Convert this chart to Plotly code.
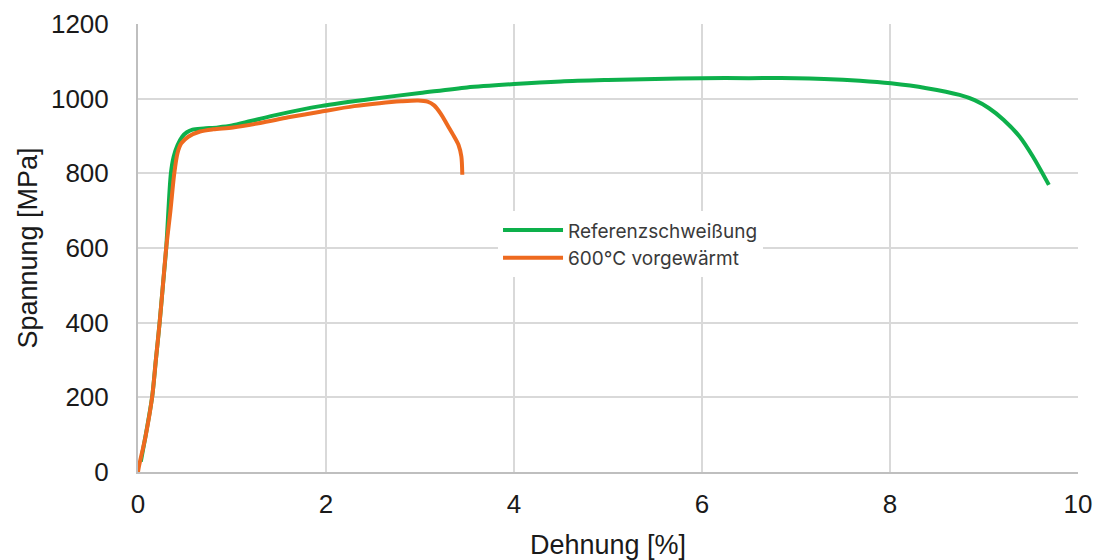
import plotly.graph_objects as go

# Referenzschweißung: Dehnung [%] / Spannung [MPa]
ref_strain = [0.03, 0.09, 0.15, 0.19, 0.23, 0.265, 0.30, 0.35, 0.38, 0.42, 0.47, 0.52,
              0.58, 0.70, 0.85, 1.0, 1.2, 1.5, 1.94, 2.5, 3.0, 3.5, 4.0, 4.5, 5.0,
              5.5, 6.0, 6.5, 7.0, 7.3, 7.68, 8.01, 8.39, 8.74, 8.9, 9.05, 9.21, 9.38, 9.52, 9.69]
ref_stress = [28, 110, 200, 300, 400, 500, 600, 800, 845, 875, 898, 910,
              917, 920, 923, 928, 940, 958, 980, 1000, 1015, 1030, 1039, 1046, 1050,
              1053, 1055, 1055, 1055, 1053, 1048, 1041, 1028, 1010, 996, 975, 943, 898, 845, 769]

# 600°C vorgewärmt
pre_strain = [0.0, 0.01, 0.08, 0.15, 0.19, 0.23, 0.265, 0.30, 0.345, 0.386, 0.42, 0.46, 0.535, 0.66,
              0.80, 1.01, 1.3, 1.6, 1.94, 2.3, 2.57, 2.8, 2.98, 3.08, 3.15, 3.22, 3.29,
              3.36, 3.41, 3.44, 3.45]
pre_stress = [0, 15, 95, 200, 300, 400, 500, 600, 700, 800, 854, 880, 898, 912,
              918, 923, 935, 950, 965, 980, 988, 993, 995, 992, 982, 960, 930,
              900, 876, 845, 796]

x_ticks = [0, 2, 4, 6, 8, 10]
y_ticks = [0, 200, 400, 600, 800, 1000, 1200]

GREEN = "#0DB04B"
ORANGE = "#EE6A1F"

fig = go.Figure()
fig.add_trace(go.Scatter(x=ref_strain, y=ref_stress, mode="lines",
                         name="Referenzschweißung",
                         line=dict(color=GREEN, width=4, shape="spline", smoothing=0.8)))
fig.add_trace(go.Scatter(x=pre_strain, y=pre_stress, mode="lines",
                         name="600°C vorgewärmt",
                         line=dict(color=ORANGE, width=4, shape="spline", smoothing=0.8)))

tick_font = dict(family="Liberation Sans, Arial, sans-serif", size=26, color="#1a1a1a")
title_font = dict(family="Liberation Sans, Arial, sans-serif", size=27, color="#1a1a1a")

fig.update_layout(
    width=1099, height=560,
    margin=dict(l=138, r=21, t=24, b=88),
    paper_bgcolor="white", plot_bgcolor="white",
    showlegend=True,
    legend=dict(x=0.383, y=0.582, xanchor="left", yanchor="top",
                bgcolor="white", borderwidth=0,
                font=dict(family="Inter, Roboto, sans-serif", size=19, color="#3a3a3a"),
                itemwidth=60, tracegroupgap=0),
    xaxis=dict(range=[0, 10], tickvals=x_ticks, ticktext=[str(v) for v in x_ticks],
               showgrid=True, gridcolor="#D9D9D9", gridwidth=1.5,
               showline=True, linecolor="#BFBFBF", linewidth=2,
               zeroline=False, ticks="", tickfont=tick_font, ticklabelstandoff=8,
               automargin=False,
               title=dict(text="Dehnung [%]", font=title_font, standoff=18)),
    yaxis=dict(range=[0, 1200], tickvals=y_ticks, ticktext=[str(v) for v in y_ticks],
               showgrid=True, gridcolor="#D9D9D9", gridwidth=1.5,
               showline=True, linecolor="#BFBFBF", linewidth=2,
               zeroline=False, ticks="", tickfont=tick_font, ticklabelstandoff=22,
               automargin=False,
               title=dict(text="Spannung [MPa]", font=title_font, standoff=6)),
)

fig.write_html("out.html")
